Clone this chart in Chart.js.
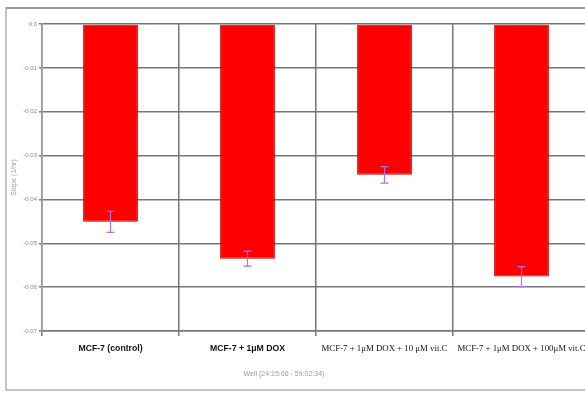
<!DOCTYPE html>
<html><head><meta charset="utf-8">
<script src="https://cdn.jsdelivr.net/npm/chart.js@4.4.1/dist/chart.umd.min.js"></script>
<style>
html,body{margin:0;padding:0;background:#fff;overflow:hidden;width:585px;height:393px;}
#wrap{position:absolute;left:0;top:0;width:595px;height:393px;}
</style></head><body>
<div id="wrap"><canvas id="c" width="595" height="393"></canvas></div>
<script>
const categories = ["MCF-7 (control)", "MCF-7 + 1μM DOX", "MCF-7 + 1μM DOX + 10 μM vit.C", "MCF-7 + 1μM DOX + 100μM vit.C"];
const slopeValues = [-0.0451, -0.0535, -0.0344, -0.0576];
const slopeErrors = [0.0024, 0.0017, 0.0019, 0.0023];
const yTickMin = -0.07, yTickMax = 0, yTickStep = 0.01;
const yTitle = "Slope (1/hr)";
const xTitle = "Well (24:15:06 - 59:02:34)";

const framePlugin = {
  id: 'frame',
  beforeDraw(chart) {
    const c = chart.ctx;
    c.save();
    c.fillStyle = '#fff';
    c.fillRect(0, 0, chart.width, chart.height);
    c.strokeStyle = '#b0b0b0';
    c.lineWidth = 1.5;
    c.strokeRect(6, 8, chart.width, 382);
    c.strokeStyle = '#888';
    c.beginPath(); c.moveTo(6, 8); c.lineTo(chart.width, 8); c.stroke();
    c.restore();
  },
  afterDraw(chart) {
    const c = chart.ctx;
    c.save();
    c.fillStyle = '#999';
    c.font = '7px "Liberation Sans", sans-serif';
    c.textAlign = 'center';
    c.textBaseline = 'middle';
    c.fillText(xTitle, 284, 374);
    c.restore();
  }
};

const errorPlugin = {
  id: 'errbars',
  afterDatasetsDraw(chart) {
    const c = chart.ctx;
    const meta = chart.getDatasetMeta(0);
    const ys = chart.scales.y;
    c.save();
    c.strokeStyle = '#b070f0';
    c.lineWidth = 1.2;
    meta.data.forEach((bar, i) => {
      const v = slopeValues[i], e = slopeErrors[i];
      const y1 = ys.getPixelForValue(v + e), y2 = ys.getPixelForValue(v - e);
      const x = bar.x;
      c.beginPath();
      c.moveTo(x, y1); c.lineTo(x, y2);
      c.moveTo(x - 4, y1); c.lineTo(x + 4, y1);
      c.moveTo(x - 4, y2); c.lineTo(x + 4, y2);
      c.stroke();
    });
    c.restore();
  }
};

new Chart(document.getElementById('c'), {
  type: 'bar',
  data: {
    labels: categories,
    datasets: [{
      data: slopeValues,
      backgroundColor: '#ff0000',
      borderColor: '#c00000',
      borderWidth: 1,
      borderSkipped: false,
      categoryPercentage: 1.0,
      barPercentage: 0.4
    }]
  },
  options: {
    responsive: false,
    animation: false,
    devicePixelRatio: 1,
    layout: { padding: { left: 0, top: 24, right: 5, bottom: 0 } },
    plugins: { legend: { display: false }, tooltip: { enabled: false } },
    scales: {
      x: {
        grid: { color: '#777', lineWidth: 1.5, offset: true, tickLength: 5, drawTicks: true },
        border: { color: '#777', width: 1.5 },
        ticks: {
          color: '#111',
          padding: 7,
          maxRotation: 0,
          autoSkip: false,
          font: (ctx) => ctx.index < 2
            ? { family: '"Liberation Sans", sans-serif', size: 8.7, weight: 'bold' }
            : { family: '"Liberation Serif", serif', size: 8.8, weight: 'normal' }
        },
        afterFit(scale) { scale.height = 62; }
      },
      y: {
        min: yTickMin, max: yTickMax,
        grid: { color: '#777', lineWidth: 1.5, tickLength: 3 },
        border: { color: '#999', width: 1.5 },
        ticks: {
          stepSize: yTickStep,
          color: '#888',
          padding: 2,
          font: { size: 6, family: '"Liberation Sans", sans-serif' },
          callback: (v) => v === 0 ? '0.0' : v.toFixed(2)
        },
        title: {
          display: true, text: yTitle, color: '#999',
          font: { size: 7, family: '"Liberation Sans", sans-serif' },
          padding: { top: 10, bottom: 0 }
        },
        afterFit(scale) { scale.width = 42; }
      }
    }
  },
  plugins: [framePlugin, errorPlugin]
});
</script>
</body></html>
